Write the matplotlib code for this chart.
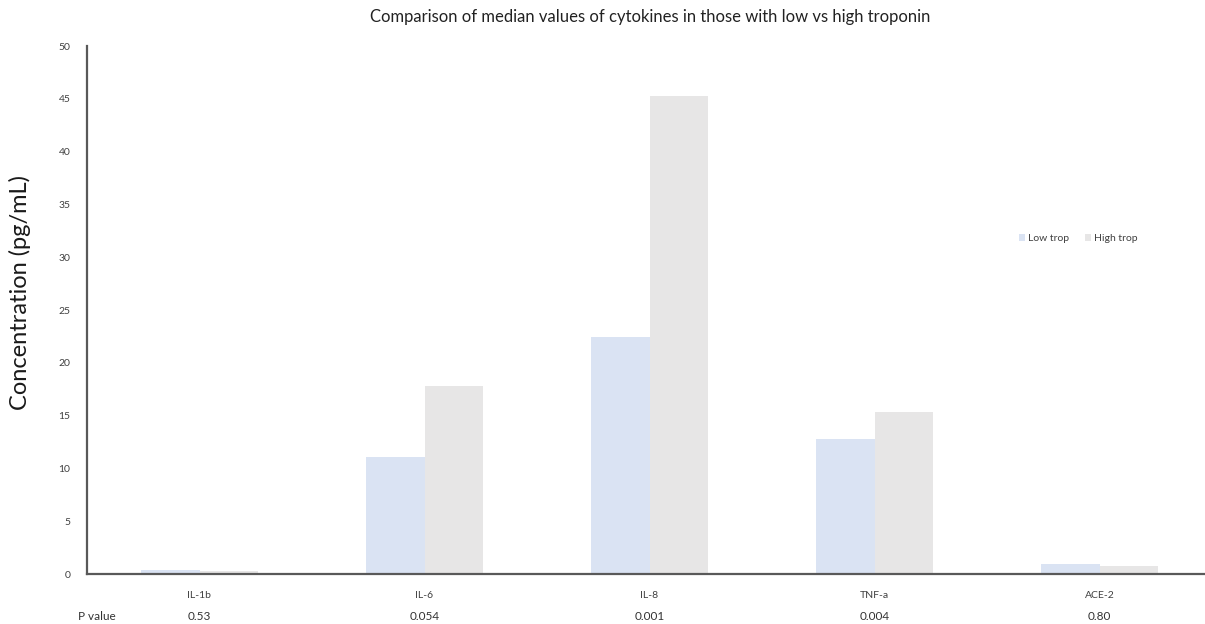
import matplotlib
matplotlib.use('Agg')
import matplotlib.pyplot as plt
import matplotlib.transforms as mtransforms
import numpy as np

plt.rcParams['font.family'] = ['Lato', 'DejaVu Sans']

# data
cytokines = ['IL-1b', 'IL-6', 'IL-8', 'TNF-a', 'ACE-2']
low_trop = [0.35, 11.1, 22.4, 12.8, 0.9]
high_trop = [0.3, 17.8, 45.3, 15.3, 0.75]
p_values = ['0.53', '0.054', '0.001', '0.004', '0.80']

low_color = '#DAE3F3'
high_color = '#E7E6E6'
axis_color = '#595959'

fig = plt.figure(figsize=(12.05, 6.24), dpi=100)
ax = fig.add_axes([87 / 1205, 50 / 624, 1125 / 1205, 528 / 624])

x = np.arange(len(cytokines))
w = 0.26
ax.bar(x - w / 2, low_trop, w, color=low_color, label='Low trop')
ax.bar(x + w / 2, high_trop, w, color=high_color, label='High trop')

ax.set_xlim(-0.5, len(cytokines) - 0.5)
ax.set_ylim(0, 50)
ax.set_yticks(range(0, 51, 5))
ax.tick_params(axis='y', length=0, labelsize=7.5, colors='#404040', pad=12)
ax.tick_params(axis='x', length=0, labelsize=7.5, colors='#404040', pad=12)
ax.set_xticks(x)
ax.set_xticklabels(cytokines)

for side in ['top', 'right']:
    ax.spines[side].set_visible(False)
ax.spines['left'].set_color(axis_color)
ax.spines['bottom'].set_color(axis_color)
ax.spines['left'].set_linewidth(1.6)
ax.spines['bottom'].set_linewidth(1.6)

# y label placed in figure coords so it stays inside the canvas
fig.text(20 / 1205, 1 - 292 / 624, 'Concentration (pg/mL)', rotation=90,
         ha='center', va='center', fontsize=17, color='#1a1a1a')

# P value row under the category labels
trans = mtransforms.blended_transform_factory(ax.transData, fig.transFigure)
for xi, p in zip(x, p_values):
    ax.text(xi, 8 / 624, p, transform=trans, ha='center', va='center',
            fontsize=8.5, color='#333333')
fig.text(78 / 1205, 8 / 624, 'P value', ha='left', va='center',
         fontsize=8.5, color='#333333')

fig.text(650 / 1205, 1 - 17 / 624,
         'Comparison of median values of cytokines in those with low vs high troponin',
         ha='center', va='center', fontsize=12, color='#222222')

ax.legend(loc='center left', bbox_to_anchor=(0.82, 0.635), ncol=2, frameon=False,
          fontsize=7.5, handlelength=0.6, handleheight=0.6, handletextpad=0.3,
          columnspacing=1.5, labelcolor='#404040')

fig.savefig('out.png', dpi=100, facecolor='white')
